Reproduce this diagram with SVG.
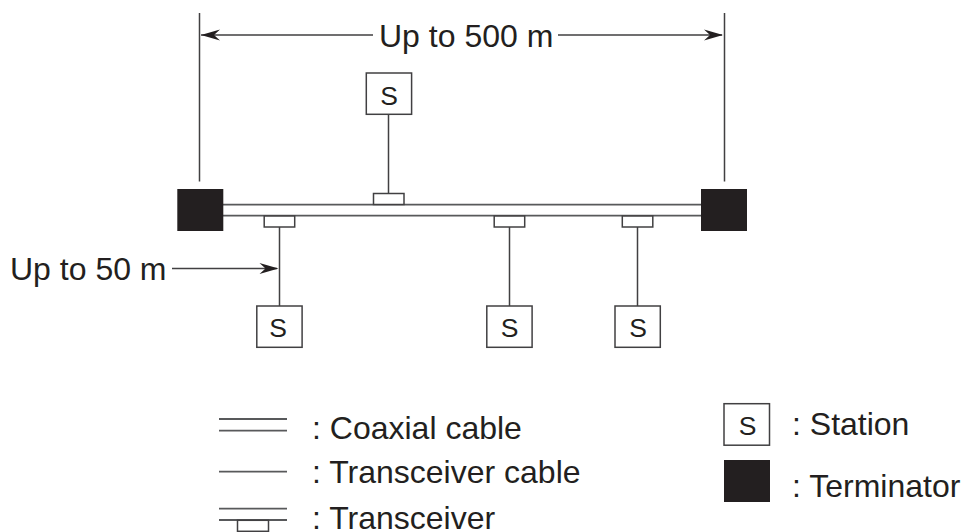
<svg xmlns="http://www.w3.org/2000/svg" width="962" height="532" viewBox="0 0 962 532">
<defs>
<path id="ah" d="M0 0L-19 -5.500L-13 0L-19 5.500Z" fill="#231f20"/>
</defs>
<style>
text{font-family:"Liberation Sans",Arial,sans-serif;fill:#231f20}
.l{font-size:32px}
.s{font-size:26.500px;text-anchor:middle}
.b{fill:#fff;stroke:#414042;stroke-width:1.500}
.t{fill:#231f20;stroke:none}
.c{stroke:#414042;stroke-width:1.500;fill:none}
.g{stroke:#58595b;stroke-width:1.800;fill:none}
</style>
<rect width="962" height="532" fill="#fff"/>
<g id="connectors">
<path class="c" d="M199.500 13V181.500M724.500 13V181.500"/>
<path class="c" d="M201 35H373M558 35H722M172 268.500H277"/>
<use href="#ah" transform="translate(201 35) rotate(180)"/>
<use href="#ah" transform="translate(723 35)"/>
<use href="#ah" transform="translate(278.500 268.500)"/>
<path class="g" d="M222 204.700H702M222 215.700H702"/>
<path class="c" d="M388.500 114V193M279.500 227V306M509.500 227V306M637.500 227V306"/>
</g>
<g id="terminator-left"><rect class="t" x="177.300" y="189" width="46" height="42"/></g>
<g id="terminator-right"><rect class="t" x="701" y="189" width="46" height="42"/></g>
<g id="transceiver-1"><rect class="b" x="373.500" y="193.500" width="30.500" height="11"/></g>
<g id="transceiver-2"><rect class="b" x="264.200" y="216" width="30.500" height="11"/></g>
<g id="transceiver-3"><rect class="b" x="494.200" y="216" width="30.500" height="11"/></g>
<g id="transceiver-4"><rect class="b" x="622.300" y="216" width="30.500" height="11"/></g>
<g id="station-1"><rect class="b" x="366.300" y="73" width="45.300" height="41.300"/><text class="s" x="389" y="105">S</text></g>
<g id="station-2"><rect class="b" x="256.800" y="306" width="45.300" height="41.300"/><text class="s" x="278" y="336.500">S</text></g>
<g id="station-3"><rect class="b" x="486.800" y="306" width="45.300" height="41.300"/><text class="s" x="509.500" y="336.500">S</text></g>
<g id="station-4"><rect class="b" x="615" y="306" width="45.300" height="41.300"/><text class="s" x="638" y="336.500">S</text></g>
<g id="label-500"><text class="l" x="379" y="47">Up to 500 m</text></g>
<g id="label-50"><text class="l" x="10" y="280">Up to 50 m</text></g>
<g id="legend-coaxial"><path class="g" d="M219 419H287M219 430.700H287"/><text class="l" x="312" y="439">: Coaxial cable</text></g>
<g id="legend-cable"><path class="g" d="M219 471.700H287"/><text class="l" x="312" y="483">: Transceiver cable</text></g>
<g id="legend-transceiver"><path class="g" d="M219 508.700H287M219 520H287"/><rect class="b" x="237.500" y="520.300" width="31" height="11"/><text class="l" x="312" y="529">: Transceiver</text></g>
<g id="legend-station"><rect class="b" x="724" y="403.700" width="45.500" height="41.500"/><text class="s" x="747.500" y="435">S</text><text class="l" x="792" y="435">: Station</text></g>
<g id="legend-terminator"><rect class="t" x="724" y="460" width="46" height="42"/><text class="l" x="792" y="497">: Terminator</text></g>
</svg>
